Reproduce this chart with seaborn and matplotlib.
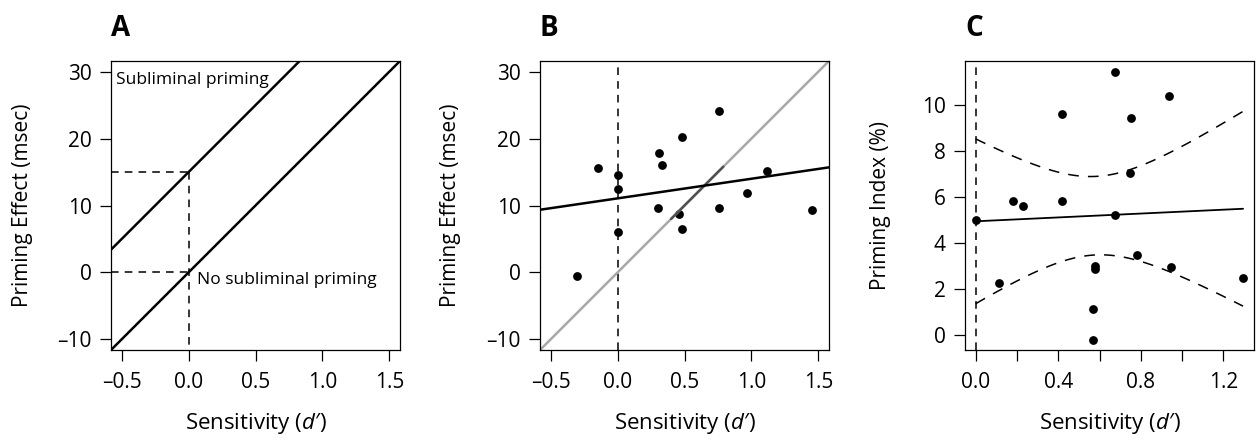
import numpy as np
import pandas as pd
import seaborn as sns
import matplotlib.pyplot as plt

# panel A: conceptual lines (sensitivity vs priming effect)
a_x = [-0.6, 1.6]
a_subliminal = [3.0, 47.0]
a_no_priming = [-12.0, 32.0]

# panel B: sensitivity (d') and priming effect (msec)
b_sens = [-0.30, -0.15, 0.00, 0.00, 0.00, 0.30, 0.31, 0.33, 0.46, 0.48,
          0.48, 0.76, 0.76, 0.97, 1.12, 1.45]
b_effect = [-0.5, 15.6, 14.5, 12.4, 6.1, 9.7, 17.8, 16.0, 8.8, 20.3,
            6.5, 24.2, 9.7, 11.8, 15.2, 9.4]
b_ident_x = [-0.6, 1.6]
b_ident_y = [-12.0, 32.0]
b_seg_x = [0.40, 0.79]
b_seg_y = [8.0, 15.8]

# panel C: sensitivity (d') and priming index (%)
c_sens = [0.000, 0.111, 0.181, 0.227, 0.416, 0.416, 0.569, 0.569, 0.576,
          0.579, 0.673, 0.673, 0.747, 0.753, 0.781, 0.935, 0.948, 1.295]
c_index = [4.97, 2.25, 5.80, 5.61, 9.61, 5.81, 1.12, -0.22, 3.00,
           2.87, 11.42, 5.19, 7.01, 9.41, 3.48, 10.36, 2.96, 2.48]

sns.set_theme(style="ticks")
plt.rcParams["font.family"] = ["Open Sans", "DejaVu Sans"]
plt.rcParams["mathtext.fontset"] = "custom"
plt.rcParams["mathtext.it"] = "Open Sans:italic"
plt.rcParams["mathtext.rm"] = "Open Sans"
for k in ["text.color", "axes.labelcolor", "xtick.color", "ytick.color", "axes.edgecolor"]:
    plt.rcParams[k] = "black"

TICK = 15
fig = plt.figure(figsize=(12.56, 4.45), dpi=100)
lefts = [111, 540, 965]
axes = [fig.add_axes([l / 1256, 1 - 350 / 445, 289 / 1256, 289 / 445]) for l in lefts]
dash = (0, (5, 4))
xlab = "Sensitivity ($\\mathit{d}$\u2032)"


def frame(ax, xt, xl, yt, yl, ylabel, ylab_x):
    ax.set_xticks(xt)
    ax.set_xticklabels(xl)
    ax.set_yticks(yt)
    ax.set_yticklabels(yl)
    ax.tick_params(direction="out", length=8, width=0.9, labelsize=TICK, colors="black")
    ax.tick_params(axis="x", pad=8)
    ax.tick_params(axis="y", pad=6)
    for s in ax.spines.values():
        s.set_visible(True)
        s.set_linewidth(0.9)
    ax.set_xlabel(xlab, fontsize=16, va="center")
    ax.set_ylabel(ylabel, fontsize=15, va="center")
    ax.xaxis.set_label_coords(0.5, -0.255)
    ax.yaxis.set_label_coords(ylab_x, 0.5)


def minus(v, fmt):
    return (fmt % v).replace("-", "\u2013")


xt = [-0.5, 0.0, 0.5, 1.0, 1.5]
yt = [-10, 0, 10, 20, 30]

# ---- A
ax = axes[0]
ax.set_xlim(-0.58, 1.58)
ax.set_ylim(-11.6, 31.6)
sns.lineplot(x=a_x, y=a_subliminal, ax=ax, color="black", lw=1.8)
sns.lineplot(x=a_x, y=a_no_priming, ax=ax, color="black", lw=1.8)
ax.plot([-0.58, 0], [15, 15], color="black", lw=1.1, ls=dash)
ax.plot([-0.58, 0], [0, 0], color="black", lw=1.1, ls=dash)
ax.plot([0, 0], [15, -11.6], color="black", lw=1.1, ls=dash)
ax.text(-0.54, 28.8, "Subliminal priming", fontsize=12.5, va="center", ha="left")
ax.text(0.06, -1.1, "No subliminal priming", fontsize=12.5, va="center", ha="left")
frame(ax, xt, [minus(v, "%.1f") for v in xt], yt, [minus(v, "%d") for v in yt],
      "Priming Effect (msec)", -0.307)

# ---- B
ax = axes[1]
ax.set_xlim(-0.58, 1.58)
ax.set_ylim(-11.6, 31.6)
ax.axvline(0, color="black", lw=1.1, ls=dash)
sns.lineplot(x=b_ident_x, y=b_ident_y, ax=ax, color="#a8a8a8", lw=1.8)
sns.lineplot(x=b_seg_x, y=b_seg_y, ax=ax, color="#505050", lw=1.8)
sns.regplot(x=b_sens, y=b_effect, ax=ax, ci=None, truncate=False,
            scatter_kws=dict(s=40, color="black", alpha=1, linewidths=0),
            line_kws=dict(color="black", lw=1.8))
ax.set_xlim(-0.58, 1.58)
frame(ax, xt, [minus(v, "%.1f") for v in xt], yt, [minus(v, "%d") for v in yt],
      "Priming Effect (msec)", -0.308)

# ---- C
ax = axes[2]
cx = np.array(c_sens)
cy = np.array(c_index)
n = len(cx)
slope, inter = np.polyfit(cx, cy, 1)
resid = cy - (inter + slope * cx)
s_err = np.sqrt((resid ** 2).sum() / (n - 2))
t_crit = 2.12  # t(0.975, df=16)
grid = np.linspace(cx.min(), cx.max(), 100)
fit = inter + slope * grid
half = t_crit * s_err * np.sqrt(1 / n + (grid - cx.mean()) ** 2 / ((cx - cx.mean()) ** 2).sum())
band = pd.DataFrame({"x": grid, "fit": fit, "lo": fit - half, "hi": fit + half})

ax.set_xlim(-0.052, 1.348)
ax.set_ylim(-0.667, 11.9)
ax.axvline(0, color="black", lw=1.1, ls=dash)
sns.lineplot(data=band, x="x", y="fit", ax=ax, color="black", lw=1.3)
sns.lineplot(data=band, x="x", y="lo", ax=ax, color="black", lw=1.1, ls=(0, (7, 6)))
sns.lineplot(data=band, x="x", y="hi", ax=ax, color="black", lw=1.1, ls=(0, (7, 6)))
sns.scatterplot(x=c_sens, y=c_index, ax=ax, s=40, color="black", linewidth=0)
cxt = [0.0, 0.2, 0.4, 0.6, 0.8, 1.0, 1.2]
frame(ax, cxt, ["0.0", "", "0.4", "", "0.8", "", "1.2"], [0, 2, 4, 6, 8, 10],
      ["0", "2", "4", "6", "8", "10"], "Priming Index (%)", -0.294)
ax.set_xlim(-0.052, 1.348)
ax.set_ylim(-0.667, 11.9)

for l, letter in zip(lefts, "ABC"):
    fig.text(l / 1256, 0.937, letter, fontsize=20, fontweight="bold", ha="left", va="center")

fig.savefig("out.png", dpi=100)
